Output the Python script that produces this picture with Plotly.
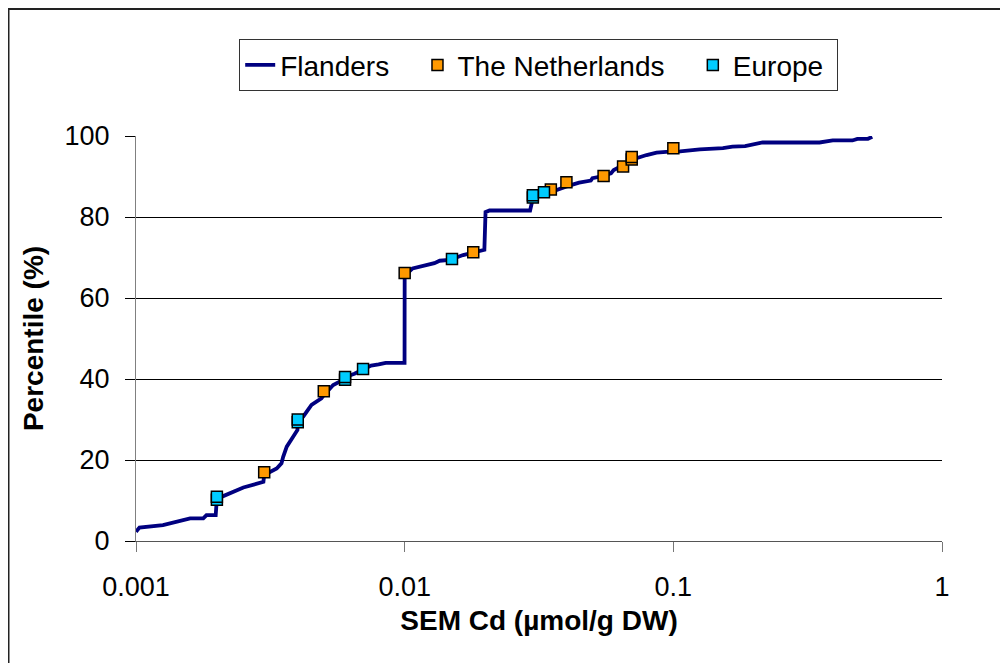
import plotly.graph_objects as go

# Flanders cumulative distribution (SEM Cd, percentile)
flanders_x = [0.001, 0.00103, 0.00126, 0.00138, 0.00159, 0.00178, 0.00183, 0.00198, 0.002, 0.00208,
              0.00251, 0.00298, 0.003, 0.00334, 0.00348, 0.00353, 0.00364, 0.00385, 0.00399, 0.004,
              0.00419, 0.0045, 0.0049, 0.005, 0.00542, 0.0059, 0.0062, 0.0065, 0.007, 0.0075,
              0.008, 0.0085, 0.00999, 0.01, 0.0107, 0.0117, 0.0129, 0.0135, 0.0147, 0.0165,
              0.018, 0.0198, 0.02, 0.0207, 0.0293, 0.0296, 0.03, 0.0327, 0.0356, 0.0398,
              0.0446, 0.0493, 0.05, 0.0536, 0.0586, 0.06, 0.0629, 0.0666, 0.0729, 0.0795,
              0.0866, 0.0941, 0.106, 0.1255, 0.153, 0.166, 0.185, 0.215, 0.35, 0.392,
              0.464, 0.484, 0.53, 0.55]
flanders_y = [2.3, 3.3, 3.9, 4.5, 5.6, 5.6, 6.4, 6.4, 10.5, 10.9,
              13.2, 14.6, 16.3, 17.9, 19.2, 20.8, 23.3, 25.8, 27.4, 29.5,
              30.7, 33.6, 35.2, 36.0, 38.5, 39.8, 40.8, 41.3, 42.3, 43.3,
              43.6, 44.0, 44.0, 65.5, 67.3, 67.9, 68.6, 69.2, 69.4, 70.6,
              71.2, 71.9, 81.2, 81.6, 81.6, 83.0, 84.6, 85.8, 86.3, 87.5,
              88.5, 89.0, 89.6, 90.0, 90.8, 91.6, 92.3, 93.3, 94.5, 95.3,
              95.9, 96.1, 96.2, 96.7, 97.0, 97.4, 97.5, 98.4, 98.4, 98.9,
              98.9, 99.3, 99.3, 99.8]

netherlands_x = [0.003, 0.005, 0.01, 0.018, 0.035, 0.04, 0.055, 0.065, 0.07, 0.07, 0.1]
netherlands_y = [17.0, 37.0, 66.2, 71.3, 86.8, 88.6, 90.1, 92.5, 94.2, 94.8, 97.0]

europe_x = [0.002, 0.002, 0.004, 0.004, 0.006, 0.006, 0.007, 0.015, 0.03, 0.03, 0.033]
europe_y = [10.2, 10.9, 29.3, 30.0, 39.8, 40.5, 42.5, 69.6, 84.8, 85.4, 86.1]

series_names = ["Flanders", "The Netherlands", "Europe"]
x_tickvals = [0.001, 0.01, 0.1, 1]
x_ticktext = ["0.001", "0.01", "0.1", "1"]
y_tickvals = [0, 20, 40, 60, 80, 100]

FONT = "Liberation Sans, Arial, sans-serif"
PAD = "\u00a0\u00a0\u00a0"

fig = go.Figure()
fig.add_trace(go.Scatter(x=flanders_x, y=flanders_y, mode="lines", name=series_names[0] + PAD,
                         line=dict(color="#000080", width=3.8)))
fig.add_trace(go.Scatter(x=netherlands_x, y=netherlands_y, mode="markers", name=series_names[1] + PAD,
                         marker=dict(symbol="square", size=11, color="#FF9900",
                                     line=dict(color="black", width=1.5))))
fig.add_trace(go.Scatter(x=europe_x, y=europe_y, mode="markers", name=series_names[2] + "\u00a0",
                         marker=dict(symbol="square", size=11, color="#00CCFF",
                                     line=dict(color="black", width=1.5))))

# page has an 8px body margin; figure coordinates below are page coordinates minus 8
L, R, T, B = 128, 74, 128, 130
W, H = 1008, 663
pw = W - L - R
ph = H - T - B

def px(xp):
    return (xp - L) / pw

def py(yp):
    return (H - B - yp) / ph

fig.update_layout(
    width=W, height=H,
    margin=dict(l=L, r=R, t=T, b=B, autoexpand=False),
    paper_bgcolor="white", plot_bgcolor="white",
    font=dict(family=FONT, color="black", size=27),
    showlegend=True,
    legend=dict(orientation="h", x=px(530.5), xanchor="center", y=py(31), yanchor="top",
                bordercolor="#333333", borderwidth=1.2, font=dict(size=28, family=FONT),
                bgcolor="white"),
    xaxis=dict(type="log", range=[-3, 0], tickvals=x_tickvals, ticktext=x_ticktext,
               showgrid=False, zeroline=False, showline=True, linecolor="#555555", linewidth=1.2,
               ticks="outside", ticklen=10, tickcolor="#777777", tickwidth=1.2,
               tickfont=dict(size=27, family=FONT), ticklabelstandoff=11,
               title=dict(text="<b>SEM Cd (µmol/g DW)</b>", font=dict(size=28, family=FONT),
                          standoff=9)),
    yaxis=dict(range=[0, 100], tickvals=y_tickvals, showgrid=True, gridcolor="black", gridwidth=1,
               zeroline=False, showline=True, linecolor="#808080", linewidth=1.2,
               ticks="outside", ticklen=10, tickcolor="black", tickwidth=1,
               tickfont=dict(size=27, family=FONT), ticklabelstandoff=10,
               title=dict(text="<b>Percentile (%)</b>", font=dict(size=28, family=FONT),
                          standoff=12)),
    shapes=[dict(type="rect", xref="paper", yref="paper",
                 x0=px(0.5), x1=px(997), y0=py(700), y1=py(1),
                 line=dict(color="#222222", width=2), fillcolor="rgba(0,0,0,0)", layer="below")],
)

fig.write_html("out.html")
